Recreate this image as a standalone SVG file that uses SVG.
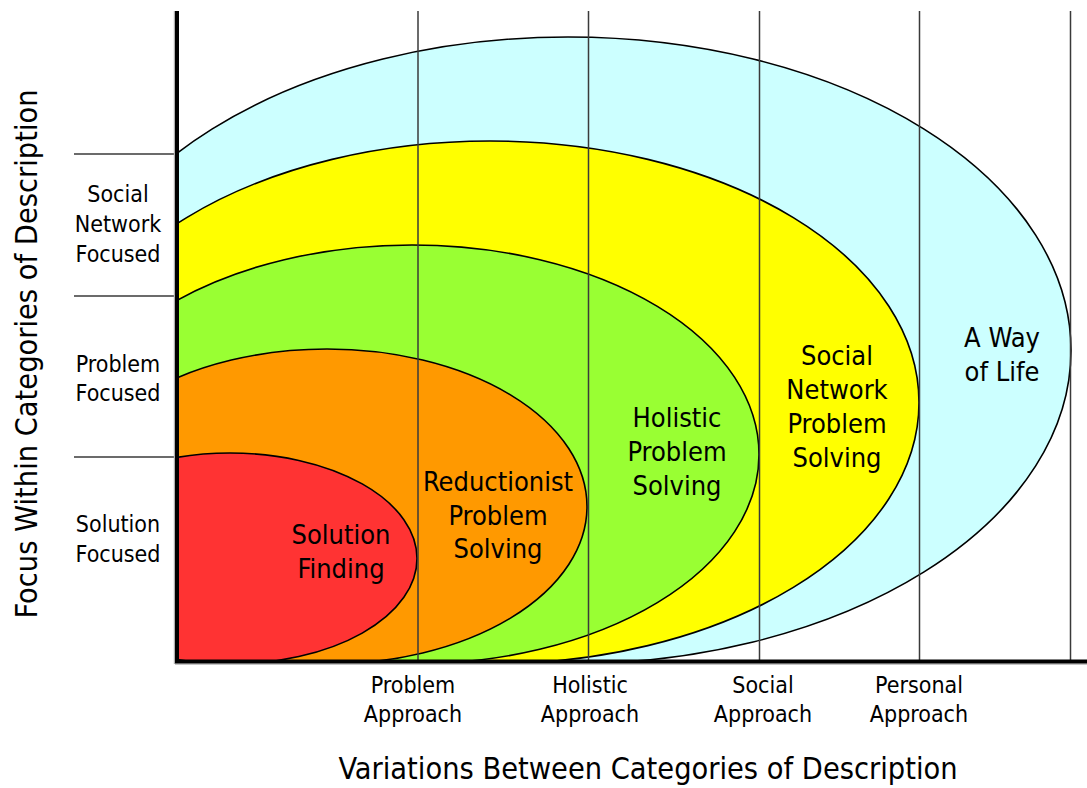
<svg xmlns="http://www.w3.org/2000/svg" width="1087" height="788" viewBox="0 0 1087 788">
  <defs>
    <clipPath id="plot">
      <rect x="177" y="0" width="910" height="662"/>
    </clipPath>
    <style>
      text { font-family: "DejaVu Sans Condensed", "Liberation Sans", sans-serif; fill: #000; text-anchor: middle; }
      .in { font-size: 27px; }
      .side { font-size: 23px; }
      .title { font-size: 30.4px; }
      .ell { stroke: #000; stroke-width: 1.6; }
      .grid { stroke: #3a3a3a; stroke-width: 1.5; fill: none; }
      .axis { stroke: #000; stroke-width: 4; fill: none; }
      .shadow { stroke: #b0b0b0; stroke-width: 1.2; fill: none; }
    </style>
  </defs>
  <rect width="1087" height="788" fill="#fff"/>

  <g clip-path="url(#plot)">
    <g id="way-of-life">
      <ellipse class="ell" cx="568" cy="350.5" rx="503" ry="313.5" fill="#CCFFFF"/>
    </g>
    <g id="social-network">
      <ellipse class="ell" cx="490" cy="402.5" rx="429" ry="261.5" fill="#FFFF00"/>
    </g>
    <g id="holistic">
      <ellipse class="ell" cx="412" cy="454.5" rx="347" ry="209.5" fill="#99FF33"/>
    </g>
    <g id="reductionist">
      <ellipse class="ell" cx="327" cy="506.5" rx="260" ry="157.5" fill="#FF9900"/>
    </g>
    <g id="solution-finding">
      <ellipse class="ell" cx="230" cy="558.5" rx="187" ry="105.5" fill="#FF3333"/>
    </g>
  </g>

  <g id="connectors">
    <line class="grid" x1="418" y1="11" x2="418" y2="661"/>
    <line class="grid" x1="588.5" y1="11" x2="588.5" y2="661"/>
    <line class="grid" x1="759.5" y1="11" x2="759.5" y2="661"/>
    <line class="grid" x1="919.5" y1="11" x2="919.5" y2="661"/>
    <line class="grid" x1="1070.5" y1="11" x2="1070.5" y2="661"/>
    <line class="grid" x1="74" y1="154" x2="176" y2="154"/>
    <line class="grid" x1="74" y1="296" x2="176" y2="296"/>
    <line class="grid" x1="74" y1="457" x2="176" y2="457"/>
    <line class="shadow" x1="174.4" y1="11" x2="174.4" y2="664"/>
    <line class="shadow" x1="175" y1="664.2" x2="1087" y2="664.2"/>
    <line class="axis" x1="177" y1="11" x2="177" y2="663"/>
    <line class="axis" x1="175" y1="661.5" x2="1087" y2="661.5"/>
  </g>

  <g id="labels-in">
    <text class="in" x="341" y="544">Solution</text>
    <text class="in" x="341" y="578">Finding</text>
    <text class="in" x="498" y="491">Reductionist</text>
    <text class="in" x="498" y="524.5">Problem</text>
    <text class="in" x="498" y="558">Solving</text>
    <text class="in" x="677" y="427">Holistic</text>
    <text class="in" x="677" y="461">Problem</text>
    <text class="in" x="677" y="495">Solving</text>
    <text class="in" x="837" y="365">Social</text>
    <text class="in" x="837" y="399">Network</text>
    <text class="in" x="837" y="433">Problem</text>
    <text class="in" x="837" y="467">Solving</text>
    <text class="in" x="1002" y="347">A Way</text>
    <text class="in" x="1002" y="381">of Life</text>
  </g>

  <g id="labels-y">
    <text class="side" x="118" y="202">Social</text>
    <text class="side" x="118" y="232">Network</text>
    <text class="side" x="118" y="262">Focused</text>
    <text class="side" x="118" y="372">Problem</text>
    <text class="side" x="118" y="401">Focused</text>
    <text class="side" x="118" y="532">Solution</text>
    <text class="side" x="118" y="562">Focused</text>
    <text class="title" transform="translate(37,354) rotate(-90)">Focus Within Categories of Description</text>
  </g>

  <g id="labels-x">
    <text class="side" x="413" y="693">Problem</text>
    <text class="side" x="413" y="722">Approach</text>
    <text class="side" x="590" y="693">Holistic</text>
    <text class="side" x="590" y="722">Approach</text>
    <text class="side" x="763" y="693">Social</text>
    <text class="side" x="763" y="722">Approach</text>
    <text class="side" x="919" y="693">Personal</text>
    <text class="side" x="919" y="722">Approach</text>
    <text class="title" x="648" y="779">Variations Between Categories of Description</text>
  </g>
</svg>
